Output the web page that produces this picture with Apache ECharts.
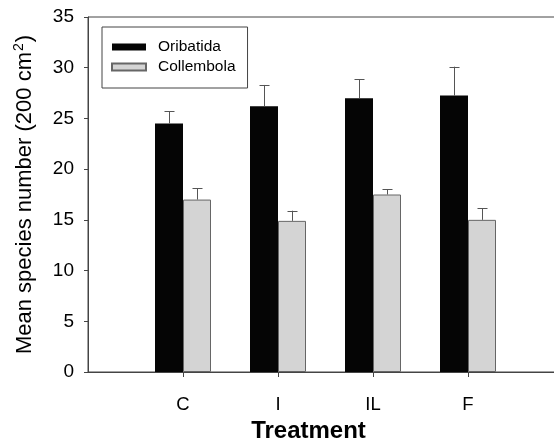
<!DOCTYPE html>
<html>
<head>
<meta charset="utf-8">
<script src="https://cdn.jsdelivr.net/npm/echarts@6/dist/echarts.min.js"></script>
<style>
html,body{margin:0;padding:0;background:#fff;}
#chart{width:554px;height:443px;}
</style>
</head>
<body>
<div id="chart"></div>
<script>
var categories = ['C', 'I', 'IL', 'F'];
var oribatidaMean = [24.5, 26.2, 27.0, 27.25];
var oribatidaErr = [1.2, 2.1, 1.85, 2.85];
var collembolaMean = [17.0, 14.9, 17.5, 15.0];
var collembolaErr = [1.1, 1.0, 0.5, 1.15];
var yTicks = [0, 5, 10, 15, 20, 25, 30, 35];

var FONT = '"Liberation Sans", Arial, Helvetica, sans-serif';
var axisData = [''].concat(categories).concat(['']);
function pad(arr) { return ['-'].concat(arr).concat(['-']); }

var BAR_W = 28;

function errData(means, errs) {
  return means.map(function (m, i) { return [i + 1, m, m + errs[i]]; });
}

function errRender(offset) {
  return function (params, api) {
    var x = api.value(0);
    var p0 = api.coord([x, api.value(1)]);
    var p1 = api.coord([x, api.value(2)]);
    var cx = Math.round(p0[0] + offset) + 0.5;
    var cap = 5;
    return {
      type: 'group',
      children: [
        { type: 'line', shape: { x1: cx, y1: p0[1], x2: cx, y2: p1[1] },
          style: { stroke: '#555', lineWidth: 1 } },
        { type: 'line', shape: { x1: cx - cap, y1: Math.round(p1[1]) + 0.5, x2: cx + cap, y2: Math.round(p1[1]) + 0.5 },
          style: { stroke: '#555', lineWidth: 1 } }
      ]
    };
  };
}

var chart = echarts.init(document.getElementById('chart'), null, { renderer: 'canvas' });
chart.setOption({
  animation: false,
  backgroundColor: '#fff',
  textStyle: { fontFamily: FONT },
  grid: {
    left: 88, top: 17, bottom: 71, right: -9,
    containLabel: false,
    outerBoundsMode: 'none',
    show: true, borderColor: '#444', borderWidth: 1, backgroundColor: 'transparent'
  },
  legend: {
    orient: 'vertical',
    left: 102, top: 27,
    padding: [12, 12, 13, 9],
    itemGap: 4,
    itemWidth: 34, itemHeight: 7,
    borderColor: '#444', borderWidth: 1,
    icon: 'rect',
    textStyle: { fontSize: 15.5, color: '#000', fontFamily: FONT, padding: [0, 0, 0, 7] },
    data: ['Oribatida', 'Collembola']
  },
  xAxis: {
    type: 'category',
    data: axisData,
    boundaryGap: false,
    axisLine: { lineStyle: { color: '#444', width: 1 } },
    axisTick: {
      show: true, length: 5, lineStyle: { color: '#444' },
      interval: function (idx) { return idx >= 1 && idx <= categories.length; }
    },
    axisLabel: { fontSize: 18.5, color: '#000', margin: 23, interval: 0, fontFamily: FONT },
    splitLine: { show: false },
    name: 'Treatment',
    nameLocation: 'middle',
    nameGap: 47,
    nameTextStyle: { fontSize: 24, fontWeight: 'bold', color: '#000', padding: [0, 34, 0, 0], fontFamily: FONT }
  },
  yAxis: {
    type: 'value',
    min: yTicks[0], max: yTicks[yTicks.length - 1], interval: 5,
    axisLine: { show: true, lineStyle: { color: '#444', width: 1 } },
    axisTick: { show: true, length: 4, lineStyle: { color: '#444' } },
    axisLabel: { fontSize: 19, color: '#000', margin: 14, fontFamily: FONT },
    splitLine: { show: false },
    name: 'Mean species number (200 cm{sup|2})',
    nameLocation: 'middle',
    nameGap: 50,
    nameTextStyle: {
      fontSize: 22, color: '#000', fontFamily: FONT,
      rich: { sup: { fontSize: 14, verticalAlign: 'top', padding: [0, 1, 12, 1], fontFamily: FONT, color: '#000' } }
    }
  },
  series: [
    {
      name: 'Oribatida', type: 'bar', data: pad(oribatidaMean),
      barWidth: BAR_W, barGap: '0%',
      itemStyle: { color: '#050505', borderColor: '#000', borderWidth: 0 }
    },
    {
      name: 'Collembola', type: 'bar', data: pad(collembolaMean),
      barWidth: BAR_W, barGap: '0%',
      itemStyle: { color: '#d4d4d4', borderColor: '#666', borderWidth: 1 }
    },
    {
      type: 'custom', renderItem: errRender(-BAR_W / 2),
      data: errData(oribatidaMean, oribatidaErr), z: 3, silent: true
    },
    {
      type: 'custom', renderItem: errRender(BAR_W / 2),
      data: errData(collembolaMean, collembolaErr), z: 3, silent: true
    }
  ]
});
</script>
</body>
</html>
